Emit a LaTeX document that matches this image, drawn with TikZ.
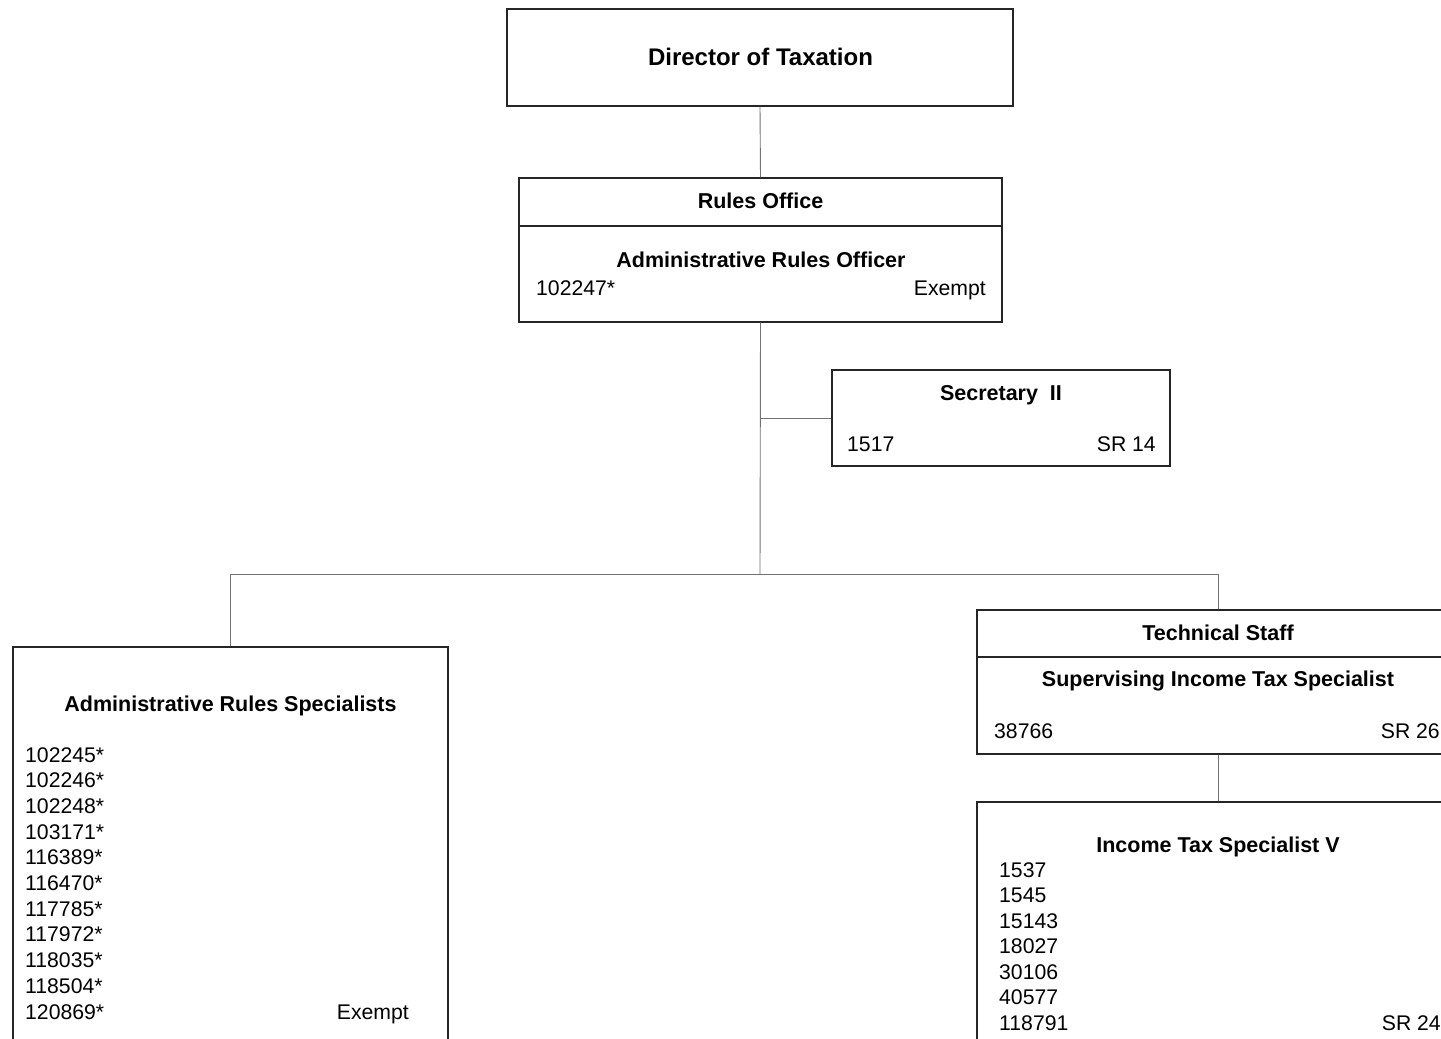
\documentclass[tikz,border=0pt]{standalone}
\usepackage{fontspec}
\setmainfont{Liberation Sans}
\begin{document}
\begin{tikzpicture}[x=1pt,y=-1pt,
  box/.style={draw=black!85, line width=1.3pt, rectangle, inner sep=0pt},
  conn/.style={draw=black!55, line width=0.9pt},
  divider/.style={draw=black!85, line width=1.2pt},
  ttl/.style={font=\bfseries\fontsize{21.5}{25}\selectfont, inner sep=0pt},
  bigttl/.style={font=\bfseries\fontsize{24}{28}\selectfont, inner sep=0pt},
  txt/.style={font=\fontsize{21.2}{25}\selectfont, inner sep=0pt}]
\useasboundingbox (0,0) rectangle (1441,1039);
\fill[white] (0,0) rectangle (1441,1039);
\clip (0,0) rectangle (1441,1039);

% Director
\node[box, minimum width=506pt, minimum height=97pt] (dir) at (760,57.5) {};
\node[bigttl, anchor=base] (dirT) at (760.5,65) {Director of Taxation};

% Rules Office
\node[box, minimum width=483pt, minimum height=144pt] (ro) at (760.5,250) {};
\draw[divider] (ro.west |- 0,226) -- (ro.east |- 0,226);
\node[ttl, anchor=base] (roT) at (760.5,208) {Rules Office};
\node[ttl, anchor=base] (roS) at (761,267) {Administrative Rules Officer};
\node[txt, anchor=base west] (roN) at (536,295) {102247*};
\node[txt, anchor=base east] (roE) at (986,295) {Exempt};

% Secretary
\node[box, minimum width=338pt, minimum height=96pt] (sec) at (1001,418) {};
\node[ttl, anchor=base] (secT) at (1001,400) {Secretary~~II};
\node[txt, anchor=base west] (secN) at (847,451) {1517};
\node[txt, anchor=base east] (secG) at (1156,451) {SR 14};

% Administrative Rules Specialists
\node[box, minimum width=435pt, minimum height=413pt] (lb) at (230.5,853.5) {};
\node[ttl, anchor=base] (lbT) at (230.5,711) {Administrative Rules Specialists};
\foreach \n [count=\i] in {102245*,102246*,102248*,103171*,116389*,116470*,117785*,117972*,118035*,118504*,120869*}
  \node[txt, anchor=base west] (lbn\i) at (25,{736.3+25.7*\i}) {\n};
\node[txt, anchor=base east] (lbE) at (409,1019) {Exempt};

% Technical Staff
\node[box, minimum width=482pt, minimum height=144pt] (ts) at (1218,682) {};
\draw[divider] (ts.west |- 0,657) -- (ts.east |- 0,657);
\node[ttl, anchor=base] (tsT) at (1218,640) {Technical Staff};
\node[ttl, anchor=base] (tsS) at (1218,686) {Supervising Income Tax Specialist};
\node[txt, anchor=base west] (tsN) at (994,738) {38766};
\node[txt, anchor=base east] (tsG) at (1440,738) {SR 26};

% Income Tax Specialist V
\node[box, minimum width=482pt, minimum height=258pt] (its) at (1218,931) {};
\node[ttl, anchor=base] (itsT) at (1218,852) {Income Tax Specialist V};
\foreach \n [count=\i] in {1537,1545,15143,18027,30106,40577,118791}
  \node[txt, anchor=base west] (itsn\i) at (999,{851.5+25.5*\i}) {\n};
\node[txt, anchor=base east] (itsG) at (1441,1030) {SR 24};

% Connectors
\coordinate (j1) at (760,418);
\coordinate (j2) at (760,574);
\draw[conn] (dir.south) -- (ro.north);
\draw[conn] (ro.south) -- (j2);
\draw[conn] (j1) -- (sec.west);
\draw[conn] (lb.north) -- (lb.north |- j2) -- (ts.north |- j2) -- (ts.north);
\draw[conn] (ts.south) -- (its.north);
\end{tikzpicture}
\end{document}
